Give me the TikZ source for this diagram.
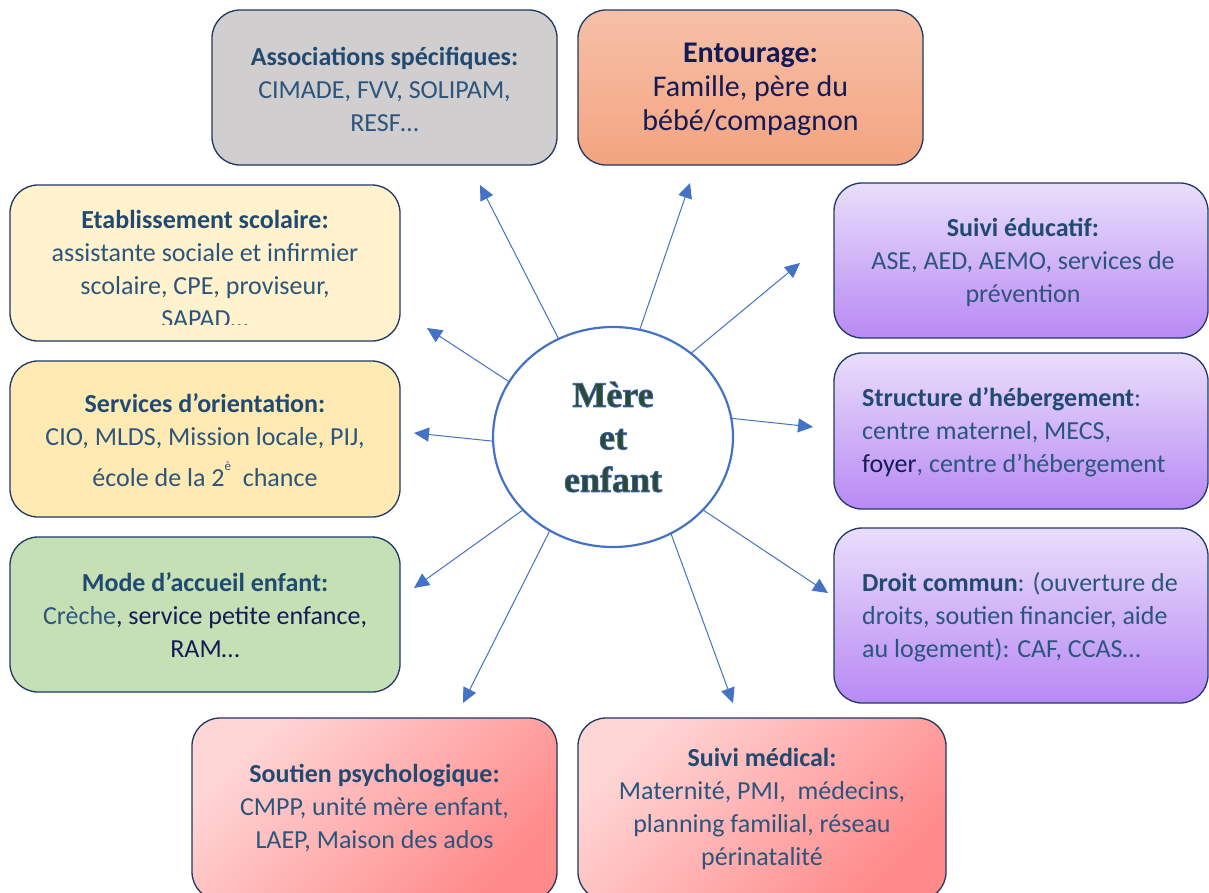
\documentclass[tikz,border=0pt]{standalone}
\usepackage{fontspec}
\setmainfont{Carlito}
\newfontfamily\cserif{Liberation Serif}
\usetikzlibrary{arrows.meta,shapes.geometric}
\definecolor{navy}{HTML}{1F3864}
\definecolor{tit}{HTML}{214A72}
\definecolor{bod}{HTML}{2C557E}
\definecolor{dnavy}{HTML}{141A55}
\definecolor{arr}{HTML}{4472C4}
\definecolor{cfill}{HTML}{2A4A32}
\definecolor{grayb}{HTML}{D0CECE}
\definecolor{orT}{HTML}{F6C0A8}
\definecolor{orB}{HTML}{F4A480}
\definecolor{yelA}{HTML}{FFF2CC}
\definecolor{yelB}{HTML}{FFEAB3}
\definecolor{grn}{HTML}{C5E0B4}
\definecolor{puT}{HTML}{E9DEFB}
\definecolor{puB}{HTML}{B889F4}
\definecolor{piL}{HTML}{FFD6D6}
\definecolor{piD}{HTML}{FF8A8A}
\newcommand\ctxt[1]{{\color{cfill}\special{pdf:literal direct 2 Tr 0.9 w 0.239 0.392 0.659 RG}#1\special{pdf:literal direct 0 Tr}}}
\begin{document}
\begin{tikzpicture}[x=1pt,y=-1pt,
  box/.style={draw=navy, line width=1.3pt, rounded corners=28pt, inner sep=0pt, outer sep=0pt},
  purplebox/.style={box, top color=puT, bottom color=puB},
  pinkbox/.style={box, top color=piL, bottom color=piD, shading angle=45},
  txt/.style={inner sep=0pt, align=center, text=bod, font=\fontsize{26}{33}\selectfont},
  ar/.style={draw=arr, line width=1pt, -{Triangle[length=15pt,width=14pt]}}]
\useasboundingbox (0,0) rectangle (1209,892);
\fill[white] (0,0) rectangle (1209,892);

% boxes
\node[box, fill=grayb, minimum width=345pt, minimum height=155pt] (assoc) at (384.5,87.5) {};
\node[box, top color=orT, bottom color=orB, minimum width=345pt, minimum height=155pt] (entou) at (750.5,87.5) {};
\node[box, fill=yelA, minimum width=390pt, minimum height=156pt] (etab) at (205,263) {};
\node[box, fill=yelB, minimum width=390pt, minimum height=156pt] (serv) at (205,439) {};
\node[box, fill=grn, minimum width=390pt, minimum height=155pt] (mode) at (205,614.5) {};
\node[purplebox, minimum width=374pt, minimum height=155pt] (educ) at (1021,260.5) {};
\node[purplebox, minimum width=374pt, minimum height=156pt] (heber) at (1021,431) {};
\node[purplebox, minimum width=374pt, minimum height=175pt] (droit) at (1021,615.5) {};
\node[pinkbox, minimum width=365pt, minimum height=182pt] (psy) at (374.5,809) {};
\node[pinkbox, minimum width=368pt, minimum height=182pt] (med) at (762,809) {};

% texts
\node[txt] (tassoc) at (384.5,89.5) {{\bfseries\color{tit}Associations spécifiques:}\\CIMADE, FVV, SOLIPAM,\\RESF…};
\node[txt, text=dnavy, font=\fontsize{30}{34}\selectfont] (tentou) at (750.5,89.5) {{\bfseries Entourage:}\\Famille, père du\\bébé/compagnon};
\begin{scope}
\clip (10,185) rectangle (400,324);
\node[txt] (tetab) at (205,269) {{\bfseries\color{tit}Etablissement scolaire:}\\assistante sociale et infirmier\\scolaire, CPE, proviseur,\\SAPAD…};
\end{scope}
\node[txt] (tserv) at (205,440) {{\bfseries\color{tit}Services d’orientation:}\\CIO, MLDS, Mission locale, PIJ,\\[8pt]école de la 2\raisebox{0.62em}{\fontsize{13}{13}\selectfont è}\hspace{0.45em}chance};
\node[txt] (tmode) at (205,615.5) {{\bfseries\color{tit}Mode d’accueil enfant:}\\Crèche{\color{dnavy}, service petite enfance,}\\{\color{dnavy}RAM…}};
\node[txt] (teduc) at (1023,262) {{\bfseries\color{tit}Suivi éducatif:}\\ASE, AED, AEMO, services de\\prévention};
\node[txt, align=left, anchor=west] (theber) at (862,432.5) {{\bfseries\color{tit}Structure d’hébergement}:\\centre maternel, MECS,\\{\color{dnavy}foyer}, centre d’hébergement};
\node[txt, align=left, anchor=west] (tdroit) at (862,617) {{\bfseries\color{tit}Droit commun}: (ouverture de\\droits, soutien financier, aide\\au logement): CAF, CCAS…};
\node[txt] (tpsy) at (374.5,808) {{\bfseries\color{tit}Soutien psychologique:}\\CMPP, unité mère enfant,\\LAEP, Maison des ados};
\node[txt] (tmed) at (762,809) {{\bfseries\color{tit}Suivi médical:}\\Maternité, PMI,~ médecins,\\planning familial, réseau\\périnatalité};

% arrow ends
\coordinate (e1) at (480,185);
\coordinate (e2) at (690,183);
\coordinate (e3) at (800,263);
\coordinate (e4) at (427,328);
\coordinate (e5) at (813,427);
\coordinate (e6) at (414,433);
\coordinate (e7) at (414,588);
\coordinate (e8) at (828,593);
\coordinate (e9) at (463,703);
\coordinate (e10) at (733,703);

% centre
\node[ellipse, draw=arr, line width=2.2pt, fill=white, minimum width=240pt, minimum height=220pt, inner sep=0pt, outer sep=0pt] (c) at (613,437) {};

\draw[ar] (c.119.5) -- (e1);
\draw[ar] (c.76) -- (e2);
\draw[ar] (c.47) -- (e3);
\draw[ar] (c.152) -- (e4);
\draw[ar] (c.9) -- (e5);
\draw[ar] (c.182) -- (e6);
\draw[ar] (c.219.4) -- (e7);
\draw[ar] (c.321) -- (e8);
\draw[ar] (c.236.7) -- (e9);
\draw[ar] (c.301) -- (e10);

\node[inner sep=0pt, align=center, font=\cserif\bfseries\fontsize{36}{42.5}\selectfont] (ctext) at (613,437) {\ctxt{Mère}\\\ctxt{et}\\\ctxt{enfant}};
\end{tikzpicture}
\end{document}
